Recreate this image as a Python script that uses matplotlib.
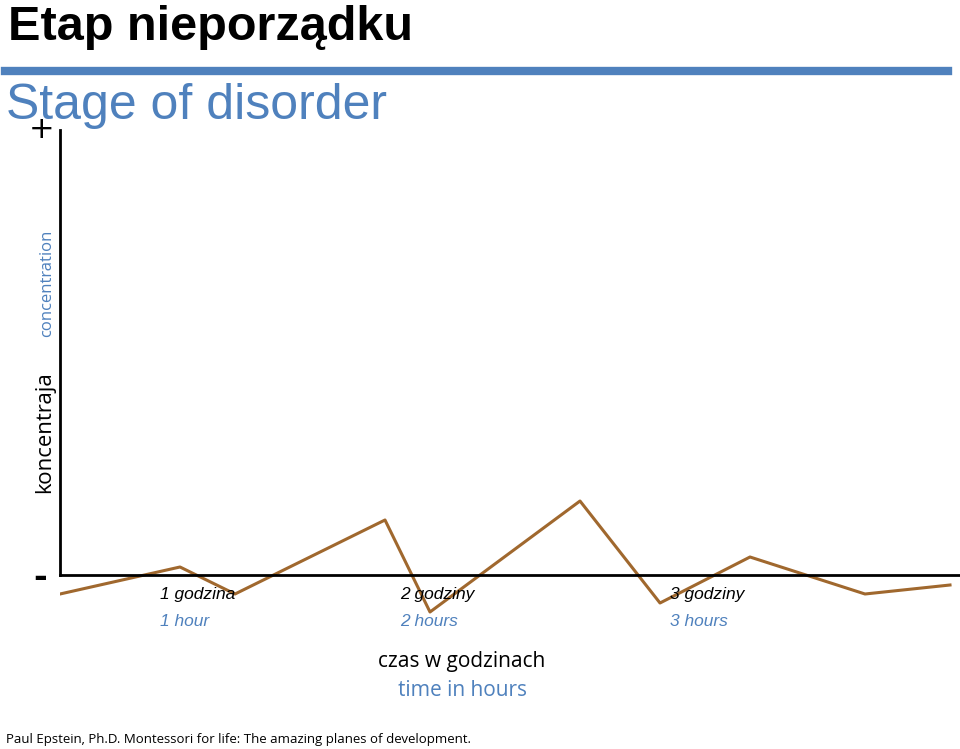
import matplotlib
matplotlib.use("Agg")
import matplotlib.pyplot as plt

minutes = [0, 24, 35, 65, 74, 104, 120, 138, 161, 178]
concentration = [-19, 8, -19, 55, -37, 74, -28, 18, -19, -10]
tick_pos = [20, 68, 122]
tick_pl = ["1 godzina", "2 godziny", "3 godziny"]
tick_en = ["1 hour", "2 hours", "3 hours"]

W, H = 960, 749
fig = plt.figure(figsize=(W/100, H/100), dpi=100)
ax = fig.add_axes([60/W, 129/H, 900/W, 490/H])
ax.set_xlim(0, 180)
ax.set_ylim(-45, 445)
ax.axis("off")
ax.plot(minutes, concentration, color="#A0682E", lw=2.2)
ax.plot([0, 180], [0, 0], color="black", lw=2, clip_on=False)
ax.plot([0, 0], [0, 445], color="black", lw=2, clip_on=False)

blue = "#4F81BD"
def ft(x, y, s, **kw):
    fig.text(x/W, 1-y/H, s, **kw)

for p, a, b in zip(tick_pos, tick_pl, tick_en):
    xp = 60 + p*5
    ft(xp, 595, a, ha="left", va="center", fontsize=12.5, style="italic", family="Liberation Sans")
    ft(xp, 621, b, ha="left", va="center", fontsize=12.5, style="italic", family="Liberation Sans", color=blue)

ft(8, 28, "Etap nieporządku", fontsize=35, weight="bold", family="Liberation Sans", va="center")
fig.add_artist(plt.Line2D([5/W, 948/W], [1-71/H, 1-71/H], color=blue, lw=6))
ft(6, 106, "Stage of disorder", fontsize=36, color=blue, va="center", family="Liberation Sans")
ft(42, 130, "+", fontsize=22, ha="center", va="center")
ft(40, 578, "-", fontsize=24, ha="center", va="center", weight="bold")
ft(45, 432, "koncentraja", fontsize=16, rotation=90, ha="center", va="center", family="Open Sans")
ft(47, 283, "concentration", fontsize=12, rotation=90, ha="center", va="center", color=blue, family="Open Sans")
ft(462, 662, "czas w godzinach", fontsize=15, ha="center", va="center", family="Open Sans")
ft(462, 690, "time in hours", fontsize=15, ha="center", va="center", color=blue, family="Open Sans")
ft(6, 740, "Paul Epstein, Ph.D. Montessori for life: The amazing planes of development.", fontsize=9.5, va="center", family="Open Sans")

fig.savefig("out.png", dpi=100)
